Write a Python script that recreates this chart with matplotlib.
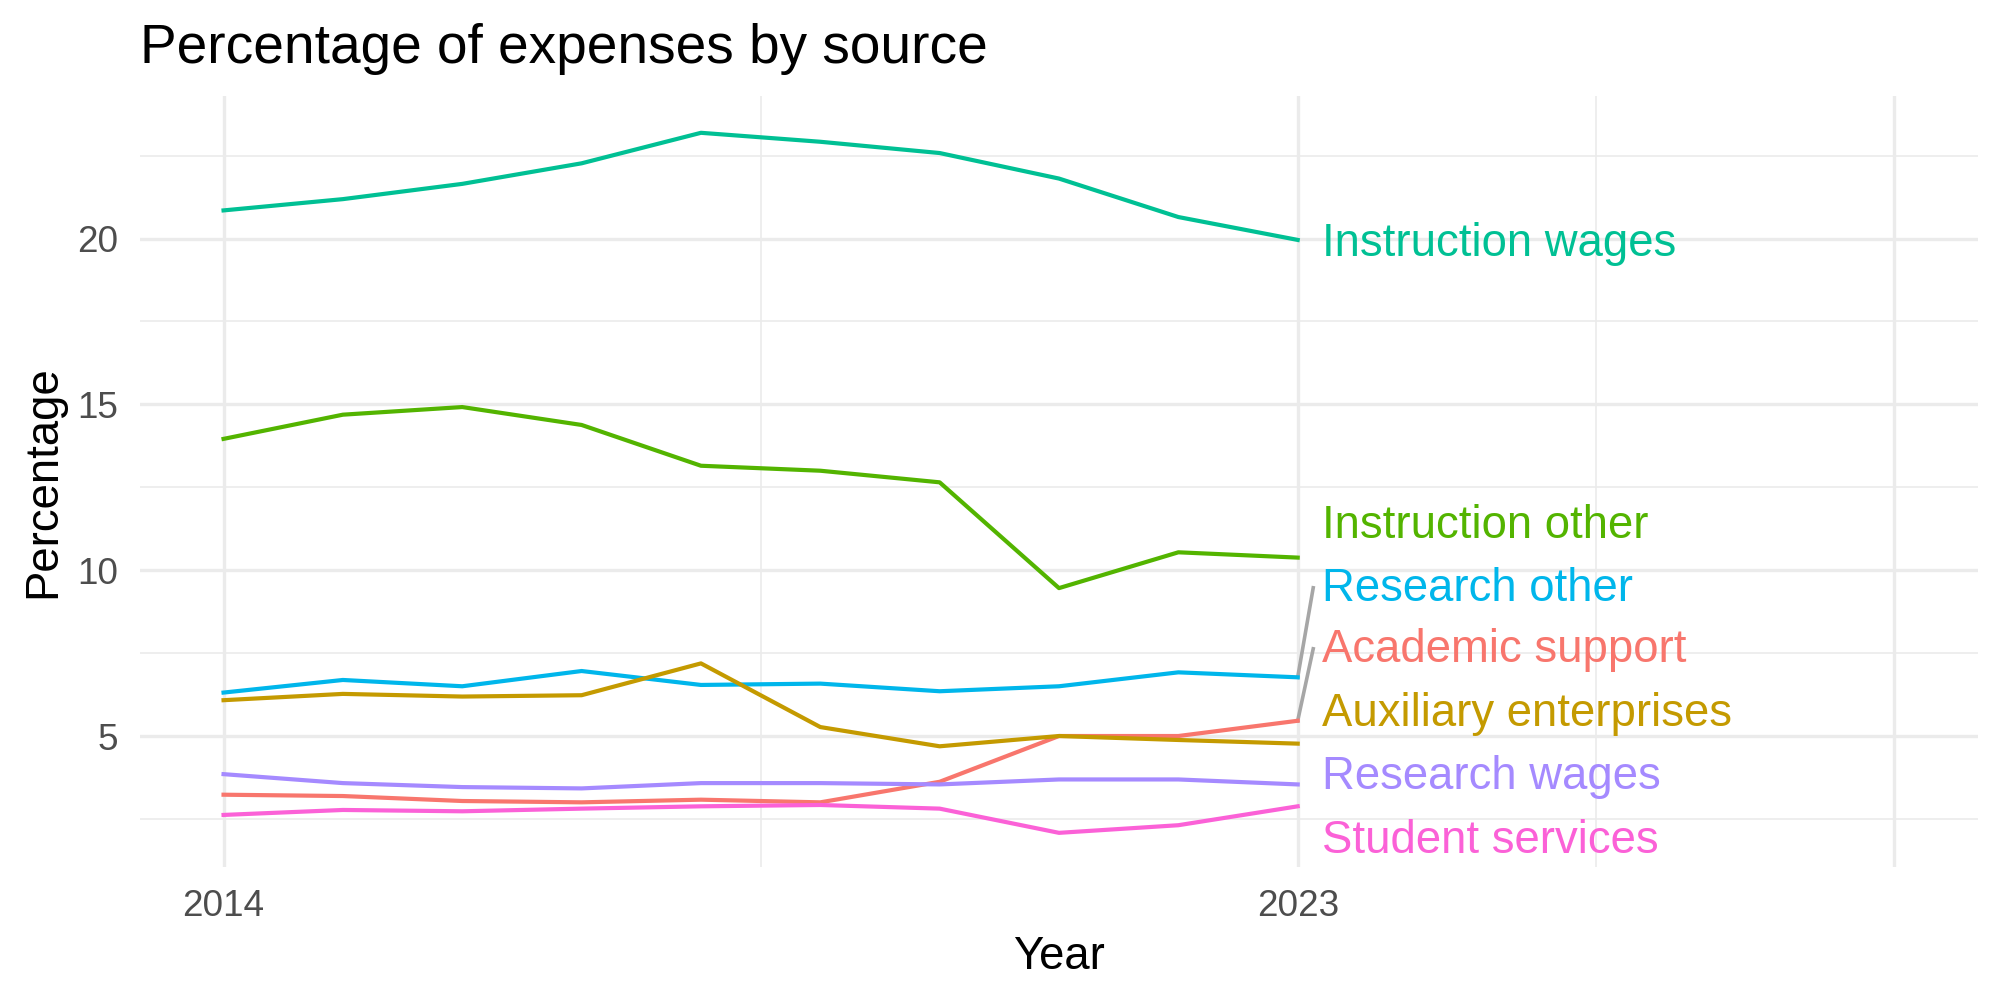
import matplotlib.pyplot as plt

plt.rcParams['font.family'] = ['Liberation Sans', 'DejaVu Sans']

years = list(range(2014, 2024))

instruction_wages = [20.85, 21.19, 21.65, 22.27, 23.19, 22.92, 22.58, 21.81, 20.65, 19.96]
instruction_other = [13.96, 14.69, 14.92, 14.38, 13.15, 13.00, 12.65, 9.46, 10.54, 10.38]
research_other = [6.31, 6.69, 6.50, 6.96, 6.54, 6.58, 6.35, 6.50, 6.92, 6.77]
auxiliary = [6.08, 6.27, 6.19, 6.23, 7.19, 5.27, 4.69, 5.00, 4.88, 4.77]
academic_support = [3.23, 3.19, 3.04, 3.00, 3.08, 3.00, 3.62, 5.00, 5.00, 5.46]
research_wages = [3.85, 3.58, 3.46, 3.42, 3.58, 3.58, 3.54, 3.69, 3.69, 3.54]
student_services = [2.62, 2.77, 2.73, 2.81, 2.88, 2.92, 2.81, 2.08, 2.31, 2.88]

names = ["Instruction wages", "Instruction other", "Research other",
         "Academic support", "Auxiliary enterprises", "Research wages",
         "Student services"]
series = [instruction_wages, instruction_other, research_other,
          academic_support, auxiliary, research_wages, student_services]
colors = ["#00C094", "#53B400", "#00B6EB", "#F8766D", "#C49A00", "#A58AFF", "#FB61D7"]
# repelled label heights
label_y = [19.83, 11.34, 9.42, 7.58, 5.65, 3.76, 1.84]
label_x = 2023.2

fig = plt.figure(figsize=(10, 5), dpi=200)
ax = fig.add_axes([0.07, 0.133, 0.919, 0.771])

for vals, col in zip(series, colors):
    ax.plot(years, vals, color=col, lw=1.5, zorder=3)

# connector segments where labels were pushed away from line ends
for vals, ly in zip(series, label_y):
    if abs(vals[-1] - ly) > 1.5:
        ax.plot([years[-1], 2023.13], [vals[-1], ly + 0.05], color="#A6A6A6", lw=1.3, zorder=2)

for name, ly, col in zip(names, label_y, colors):
    ax.text(label_x, ly, name, color=col, fontsize=16.4, va='center', ha='left')

ax.set_xlim(2013.3, 2028.7)
ax.set_ylim(1.05, 24.3)

ax.set_xticks([2014, 2023, 2028])
ax.set_xticklabels(["2014", "2023", ""])
ax.set_xticks([2018.5, 2025.5], minor=True)
ax.set_yticks([5, 10, 15, 20])
ax.set_yticks([2.5, 7.5, 12.5, 17.5, 22.5], minor=True)
ax.grid(which='major', color="#EBEBEB", lw=1.2)
ax.grid(which='minor', color="#EBEBEB", lw=0.6)
ax.set_axisbelow(True)
ax.tick_params(which='both', length=0, labelsize=13.3, labelcolor="#4D4D4D", pad=8)
for s in ax.spines.values():
    s.set_visible(False)

ax.set_xlabel("Year", fontsize=16.4, labelpad=4)
ax.set_ylabel("Percentage", fontsize=16.4, labelpad=4)
ax.set_title("Percentage of expenses by source", fontsize=19.8, loc='left', pad=12)

fig.savefig("out.png", dpi=200, facecolor='white')
